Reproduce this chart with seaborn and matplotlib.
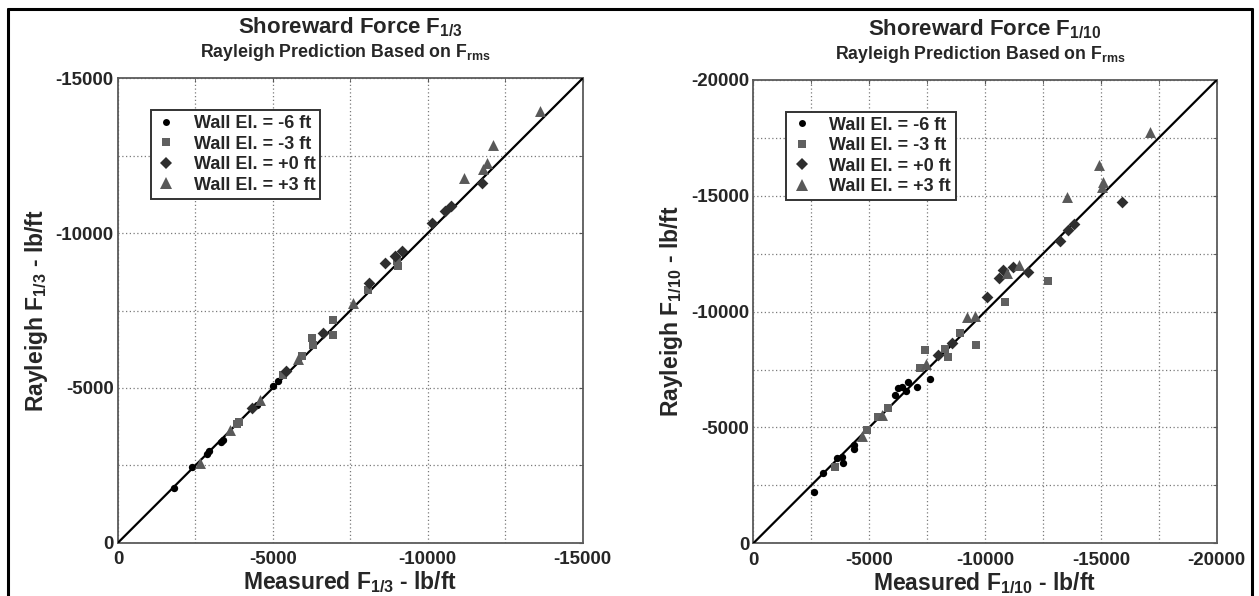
import numpy as np
import pandas as pd
import matplotlib
matplotlib.use("Agg")
import matplotlib.pyplot as plt
import seaborn as sns
from matplotlib.lines import Line2D
from matplotlib.ticker import FixedLocator

# ---------------- data ----------------
group_labels = ["Wall El. = -6 ft", "Wall El. = -3 ft", "Wall El. = +0 ft", "Wall El. = +3 ft"]

# Left panel: F1/3 (measured, Rayleigh)
l_m6_x = [-1808, -2379, -2883, -2947, -3315, -3379, -4477, -5014, -5175]
l_m6_y = [-1766, -2432, -2874, -2948, -3239, -3304, -4456, -5047, -5208]
l_m3_x = [-3852, -3917, -5337, -5929, -6305, -6251, -6929, -6950, -8080, -8996, -9049]
l_m3_y = [-3843, -3907, -5425, -6038, -6393, -6610, -6716, -7200, -8169, -9083, -8922]
l_p0_x = [-4315, -5423, -6629, -8113, -8619, -8942, -9157, -10126, -10556, -10739, -11740]
l_p0_y = [-4349, -5531, -6771, -8385, -9031, -9246, -9407, -10323, -10698, -10882, -11634]
l_p3_x = [-2647, -3615, -4584, -5821, -7575, -11180, -11793, -11901, -12095, -13622]
l_p3_y = [-2573, -3649, -4595, -5932, -7740, -11776, -12066, -12260, -12841, -13959]

# Right panel: F1/10 (measured, Rayleigh)
r_m6_x = [-2620, -2995, -3600, -3815, -3884, -4346, -4346, -6116, -6258, -6405, -6591, -6690, -7052, -7627]
r_m6_y = [-2228, -3022, -3669, -3739, -3480, -4244, -4058, -6402, -6691, -6734, -6588, -6976, -6734, -7080]
r_m3_x = [-3526, -4894, -5395, -5827, -7195, -7410, -8274, -8417, -8921, -9612, -10863, -12732]
r_m3_y = [-3307, -4891, -5465, -5828, -7555, -8345, -8375, -8055, -9066, -8561, -10430, -11323]
r_p0_x = [-7985, -8563, -10073, -10617, -10790, -11221, -11869, -13237, -13596, -13842, -15926]
r_p0_y = [-8129, -8634, -10646, -11440, -11798, -11941, -11725, -13050, -13525, -13784, -14747]
r_p3_x = [-4678, -5542, -7454, -9210, -9568, -10936, -11480, -13552, -14933, -15106, -15037, -17122]
r_p3_y = [-4620, -5538, -7741, -9782, -9813, -11656, -12014, -14963, -16331, -15610, -15395, -17769]

left_ticks = [0, -5000, -10000, -15000]
right_ticks = [0, -5000, -10000, -15000, -20000]

# ---------------- style ----------------
sns.set_style("white")
plt.rcParams["font.family"] = ["Liberation Sans", "DejaVu Sans"]
plt.rcParams["font.weight"] = "bold"
plt.rcParams["mathtext.fontset"] = "custom"
plt.rcParams["mathtext.rm"] = "Liberation Sans:bold"
plt.rcParams["mathtext.it"] = "Liberation Sans:bold"
plt.rcParams["mathtext.bf"] = "Liberation Sans:bold"

marker_of = ["o", "s", "D", "^"]
color_of = ["#000000", "#606060", "#2e2e2e", "#595959"]
size_of = [28, 36, 36, 62]

fig = plt.figure(figsize=(12.59, 5.96), dpi=100)
axL = fig.add_axes([118 / 1259, (596 - 542.7) / 596, 464.7 / 1259, 464.4 / 596])
axR = fig.add_axes([753.3 / 1259, (596 - 543.3) / 596, 463.4 / 1259, 463.3 / 596])


def make_df(xs, ys):
    rows = []
    for g, (x, y) in enumerate(zip(xs, ys)):
        for a, b in zip(x, y):
            rows.append({"measured": a, "rayleigh": b, "group": group_labels[g]})
    return pd.DataFrame(rows)


def panel(ax, df, lim, ticks, sub):
    ax.plot([0, lim], [0, lim], color="black", lw=1.6, zorder=3)
    for g, lab in enumerate(group_labels):
        d = df[df["group"] == lab]
        sns.scatterplot(data=d, x="measured", y="rayleigh", ax=ax, marker=marker_of[g],
                        color=color_of[g], s=size_of[g], linewidth=0, zorder=4, legend=False)
    ax.set_xlim(0, lim)
    ax.set_ylim(0, lim)
    minor = list(np.arange(0, lim - 1, -2500))
    ax.xaxis.set_major_locator(FixedLocator(ticks))
    ax.yaxis.set_major_locator(FixedLocator(ticks))
    ax.xaxis.set_minor_locator(FixedLocator(minor))
    ax.yaxis.set_minor_locator(FixedLocator(minor))
    ax.set_xticklabels([str(t) for t in ticks])
    ax.set_yticklabels([str(t) for t in ticks])
    ax.grid(True, which="both", linestyle=(0, (1, 2)), color="#7a7a7a", lw=0.9)
    ax.tick_params(which="both", direction="in", length=3, top=True, right=True,
                   labelsize=13.5, color="#555555")
    ax.tick_params(axis="x", pad=6)
    ax.tick_params(axis="y", pad=3)
    for lbl in ax.get_xticklabels() + ax.get_yticklabels():
        lbl.set_fontweight("bold")
    for sp in ax.spines.values():
        sp.set_color("#5a5a5a")
        sp.set_linewidth(1.3)
    ax.set_xlabel("Measured F$_{%s}$ - lb/ft" % sub, fontsize=16.5, fontweight="bold", labelpad=1)
    ax.set_ylabel("Rayleigh F$_{%s}$ - lb/ft" % sub, fontsize=16.5, fontweight="bold", labelpad=4)
    ax.text(0.5, 1.085, "Shoreward Force F$_{%s}$" % sub, transform=ax.transAxes,
            ha="center", va="bottom", fontsize=16, fontweight="bold")
    ax.text(0.49, 1.033, "Rayleigh Prediction Based on F$_{rms}$", transform=ax.transAxes,
            ha="center", va="bottom", fontsize=12.8, fontweight="bold")
    handles = [Line2D([], [], linestyle="none", marker=marker_of[g], color=color_of[g],
                      markeredgewidth=0, markersize=[5, 6, 6, 8][g]) for g in range(4)]
    leg = ax.legend(handles, group_labels, loc="upper left", bbox_to_anchor=(0.07, 0.932),
                    borderaxespad=0, fancybox=False, framealpha=1, edgecolor="#333333",
                    prop={"size": 13, "weight": "bold"}, handletextpad=0.9,
                    labelspacing=0.2, borderpad=0.28, handlelength=1.2)
    leg.get_frame().set_linewidth(1.4)
    leg.set_zorder(6)


panel(axL, make_df([l_m6_x, l_m3_x, l_p0_x, l_p3_x], [l_m6_y, l_m3_y, l_p0_y, l_p3_y]),
      -15000, left_ticks, "1/3")
panel(axR, make_df([r_m6_x, r_m3_x, r_p0_x, r_p3_x], [r_m6_y, r_m3_y, r_p0_y, r_p3_y]),
      -20000, right_ticks, "1/10")

# outer frame of the figure
for xs, ys in [([8, 1252], [587, 587]), ([8, 8], [587, 0]), ([1252, 1252], [587, 0])]:
    fig.add_artist(Line2D([x / 1259 for x in xs], [y / 596 for y in ys],
                          transform=fig.transFigure, color="black", lw=2.2))

fig.savefig("out.png", dpi=100)
